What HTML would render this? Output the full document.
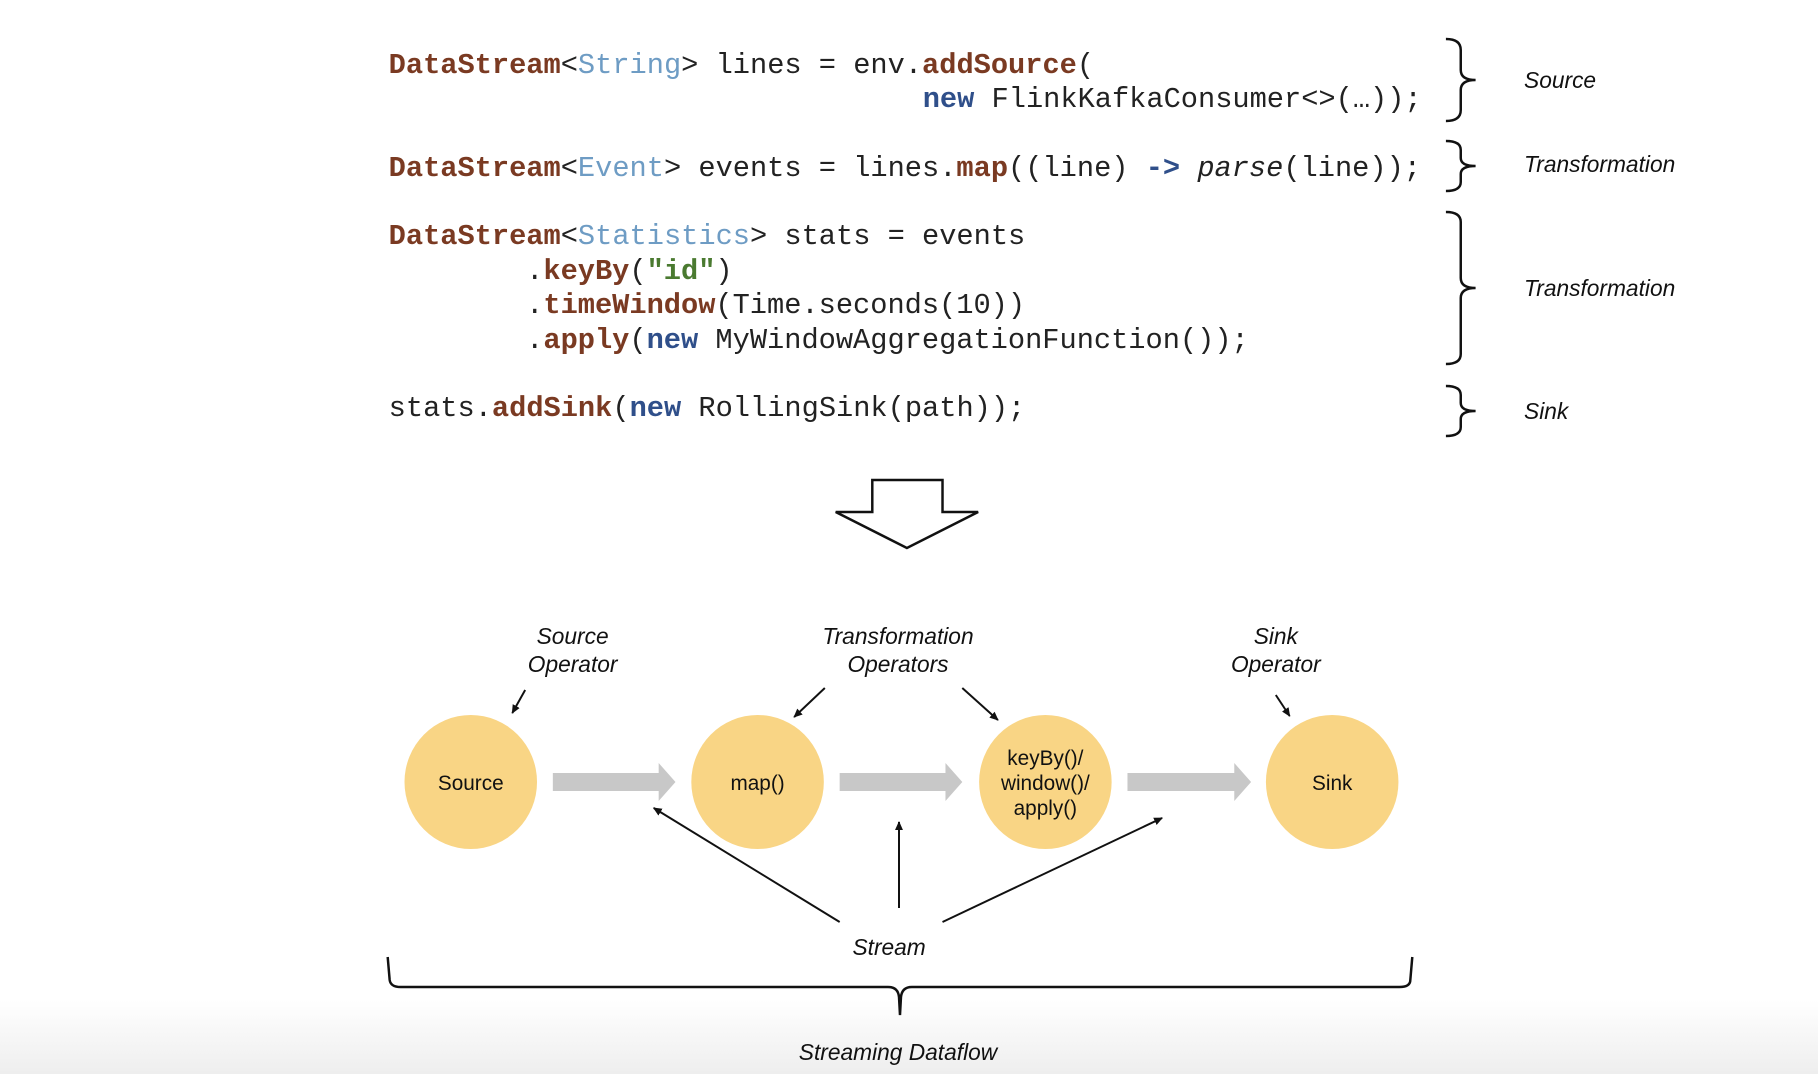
<!DOCTYPE html>
<html><head><meta charset="utf-8"><style>
html,body{margin:0;padding:0;background:#fff;}
svg{display:block}
.c{font-family:"Liberation Mono",monospace;font-size:29px;fill:#222;}
.k{fill:#7a3a22;font-weight:bold}
.t{fill:#6e9cc4}
.n{fill:#2f4f8a;font-weight:bold}
.s{fill:#4a7a30;font-weight:bold}
.l{font-family:"Liberation Sans",sans-serif;font-style:italic;font-size:23px;fill:#111}
.o{font-family:"Liberation Sans",sans-serif;font-size:21px;fill:#111}
</style></head><body>
<svg width="1818" height="1074" viewBox="0 0 1818 1074" xmlns="http://www.w3.org/2000/svg">
<defs>
<linearGradient id="bg" x1="0" y1="0" x2="0" y2="1"><stop offset="0" stop-color="#fff"/><stop offset="1" stop-color="#eeeeee"/></linearGradient>
<marker id="ah" markerWidth="10" markerHeight="10" refX="8" refY="5" orient="auto" markerUnits="userSpaceOnUse"><path d="M0,1 L9,5 L0,9 Z" fill="#111"/></marker>
</defs>
<rect x="0" y="1000" width="1818" height="74" fill="url(#bg)"/>
<g transform="scale(0.989,1)">
<g class="c">
<text x="393" y="73"><tspan class="k">DataStream</tspan>&lt;<tspan class="t">String</tspan>&gt; lines = env.<tspan class="k">addSource</tspan>(</text>
<text x="933" y="107"><tspan class="n">new</tspan> FlinkKafkaConsumer&lt;&gt;(…));</text>
<text x="393" y="176"><tspan class="k">DataStream</tspan>&lt;<tspan class="t">Event</tspan>&gt; events = lines.<tspan class="k">map</tspan>((line) <tspan class="n">-&gt;</tspan> <tspan font-style="italic">parse</tspan>(line));</text>
<text x="393" y="244"><tspan class="k">DataStream</tspan>&lt;<tspan class="t">Statistics</tspan>&gt; stats = events</text>
<text x="532" y="279">.<tspan class="k">keyBy</tspan>(<tspan class="s">"id"</tspan>)</text>
<text x="532" y="313">.<tspan class="k">timeWindow</tspan>(Time.seconds(10))</text>
<text x="532" y="348">.<tspan class="k">apply</tspan>(<tspan class="n">new</tspan> MyWindowAggregationFunction());</text>
<text x="393" y="416">stats.<tspan class="k">addSink</tspan>(<tspan class="n">new</tspan> RollingSink(path));</text>
</g>
<g fill="none" stroke="#111" stroke-width="2.5">
<path d="M1462,39 Q1477,39 1477,50 L1477,70 Q1477,80 1492,80 Q1477,80 1477,90 L1477,110 Q1477,121 1462,121"/>
<path d="M1462,141 Q1477,141 1477,150 L1477,158 Q1477,166 1492,166 Q1477,166 1477,174 L1477,182 Q1477,191 1462,191"/>
<path d="M1462,212 Q1477,212 1477,222 L1477,278 Q1477,288 1492,288 Q1477,288 1477,298 L1477,354 Q1477,364 1462,364"/>
<path d="M1462,386 Q1477,386 1477,395 L1477,403 Q1477,411 1492,411 Q1477,411 1477,419 L1477,427 Q1477,436 1462,436"/>
</g>
<text class="l" x="1541" y="88">Source</text>
<text class="l" x="1541" y="172">Transformation</text>
<text class="l" x="1541" y="296">Transformation</text>
<text class="l" x="1541" y="419">Sink</text>
<path d="M882,480 L953,480 L953,512 L989,512 L917,548 L845,512 L882,512 Z" fill="#fff" stroke="#111" stroke-width="2.5"/>
<g fill="#f9d585">
<circle cx="476" cy="782" r="67"/><circle cx="766" cy="782" r="67"/><circle cx="1057" cy="782" r="67"/><circle cx="1347" cy="782" r="67"/>
</g>
<g fill="#c8c8c8">
<path d="M559,773 L666,773 L666,763 L683,782 L666,801 L666,791 L559,791 Z"/>
<path d="M849,773 L956,773 L956,763 L973,782 L956,801 L956,791 L849,791 Z"/>
<path d="M1140,773 L1248,773 L1248,763 L1265,782 L1248,801 L1248,791 L1140,791 Z"/>
</g>
<text class="o" x="476" y="790" text-anchor="middle">Source</text>
<text class="o" x="766" y="790" text-anchor="middle">map()</text>
<text class="o" x="1057" y="765" text-anchor="middle">keyBy()/</text>
<text class="o" x="1057" y="790" text-anchor="middle">window()/</text>
<text class="o" x="1057" y="815" text-anchor="middle">apply()</text>
<text class="o" x="1347" y="790" text-anchor="middle">Sink</text>
<g class="l" text-anchor="middle">
<text x="579" y="644">Source</text><text x="579" y="672">Operator</text>
<text x="908" y="644">Transformation</text><text x="908" y="672">Operators</text>
<text x="1290" y="644">Sink</text><text x="1290" y="672">Operator</text>
<text x="899" y="955">Stream</text>
<text x="908" y="1060">Streaming Dataflow</text>
</g>
<g stroke="#111" stroke-width="2" fill="none" marker-end="url(#ah)">
<line x1="531" y1="690" x2="518" y2="713"/>
<line x1="834" y1="688" x2="803" y2="717"/>
<line x1="973" y1="688" x2="1009" y2="720"/>
<line x1="1290" y1="695" x2="1304" y2="716"/>
<line x1="849" y1="922" x2="661" y2="808"/>
<line x1="909" y1="908" x2="909" y2="822"/>
<line x1="953" y1="922" x2="1175" y2="818"/>
</g>
<path d="M392,957 L394,980 Q395,987 405,987 L898,987 Q908,987 909,997 L910,1015 L911,997 Q912,987 922,987 L1415,987 Q1426,987 1426,980 L1428,957" fill="none" stroke="#111" stroke-width="2.5"/>
</g>
</svg>
</body></html>
